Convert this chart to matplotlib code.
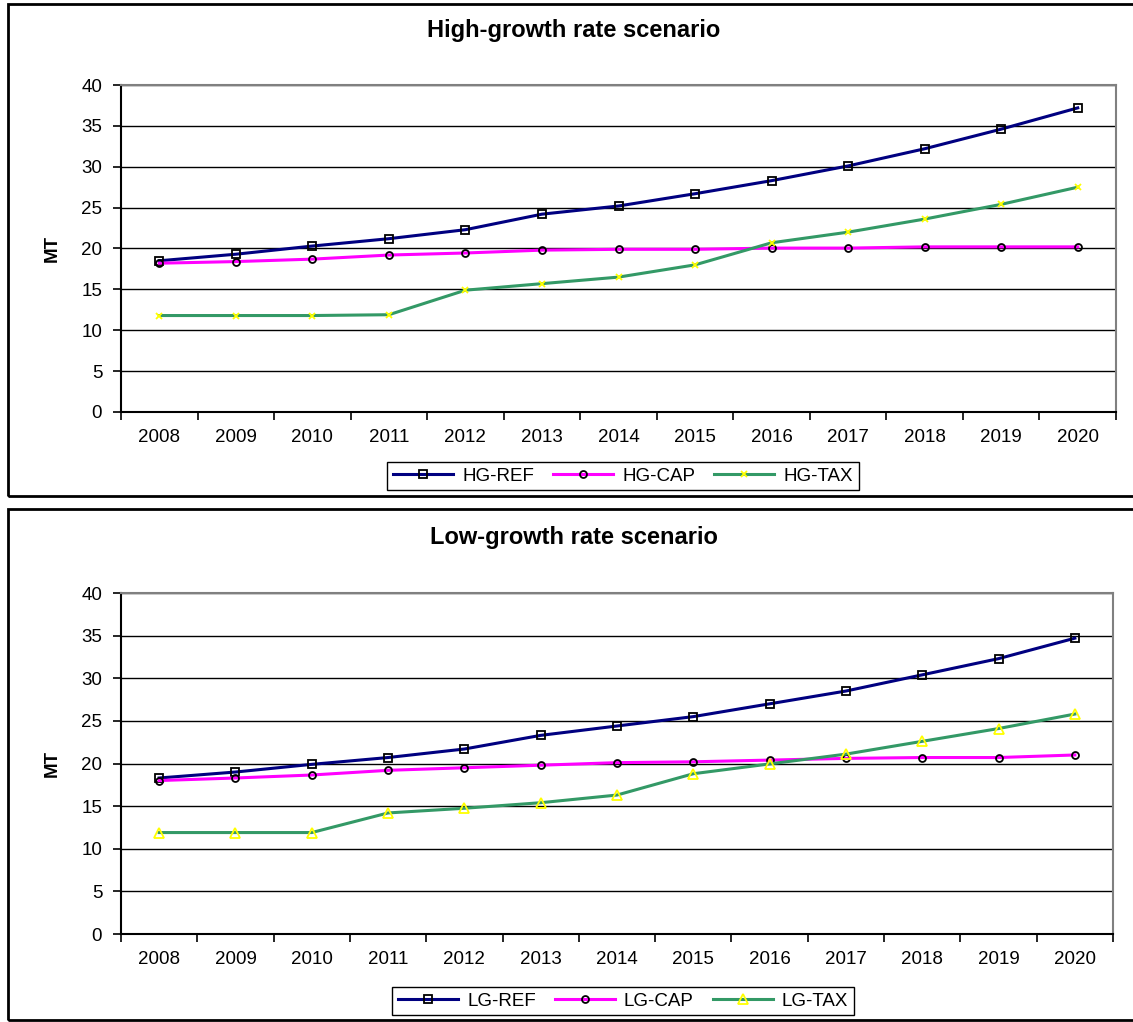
import numpy as np
import matplotlib.pyplot as plt
from matplotlib.patches import Rectangle
from matplotlib.ticker import FixedLocator

plt.rcParams['font.family'] = ['Liberation Sans', 'DejaVu Sans']

years = [str(y) for y in range(2008, 2021)]

hg_ref = [18.5, 19.3, 20.3, 21.2, 22.3, 24.2, 25.2, 26.7, 28.3, 30.1, 32.2, 34.6, 37.2]
hg_cap = [18.2, 18.4, 18.7, 19.2, 19.45, 19.8, 19.9, 19.9, 20.05, 20.05, 20.2, 20.2, 20.2]
hg_tax = [11.8, 11.8, 11.8, 11.9, 14.9, 15.7, 16.5, 18.0, 20.7, 22.0, 23.6, 25.4, 27.5]

lg_ref = [18.3, 19.0, 19.9, 20.7, 21.7, 23.3, 24.4, 25.5, 27.0, 28.5, 30.4, 32.3, 34.7]
lg_cap = [18.0, 18.3, 18.65, 19.2, 19.5, 19.8, 20.1, 20.2, 20.4, 20.6, 20.7, 20.7, 21.0]
lg_tax = [11.9, 11.9, 11.9, 14.2, 14.75, 15.4, 16.3, 18.8, 19.95, 21.1, 22.6, 24.1, 25.8]

W, H = 1133, 1022
fig = plt.figure(figsize=(W / 100, H / 100), dpi=100)


def px_rect(x0, y0, x1, y1):
    # pixel box (top-left origin) -> figure fraction [left, bottom, width, height]
    return [x0 / W, 1 - y1 / H, (x1 - x0) / W, (y1 - y0) / H]


def panel(frame, plot_box, title, title_y, series, legend_y):
    fig.patches.append(Rectangle((frame[0] / W, 1 - frame[3] / H),
                                 (frame[2] - frame[0]) / W, (frame[3] - frame[1]) / H,
                                 transform=fig.transFigure, fill=False,
                                 edgecolor='black', linewidth=2))
    ax = fig.add_axes(px_rect(*plot_box))
    x = np.arange(len(years))
    for label, vals, color, marker, ms, mec in series:
        ax.plot(x, vals, color=color, lw=2.2, marker=marker, ms=ms,
                mfc='none', mec=mec, mew=1.3, label=label)
    ax.set_xlim(-0.5, len(years) - 0.5)
    ax.set_ylim(0, 40)
    ax.set_yticks(range(0, 41, 5))
    ax.yaxis.grid(True, color='black', lw=1)
    ax.set_axisbelow(True)
    ax.set_xticks(x)
    ax.set_xticklabels(years)
    ax.xaxis.set_minor_locator(FixedLocator(np.arange(-0.5, len(years), 1)))
    ax.tick_params(axis='x', which='major', length=0, pad=12, labelsize=13.5)
    ax.tick_params(axis='x', which='minor', length=5.5, width=1.2, direction='out')
    ax.tick_params(axis='y', length=5.5, width=1.2, pad=8, labelsize=13.5)
    for s in ('top', 'right'):
        ax.spines[s].set_color('#808080')
        ax.spines[s].set_linewidth(1.5)
    for s in ('left', 'bottom'):
        ax.spines[s].set_linewidth(1.5)
    fig.text(52 / W, 1 - ((plot_box[1] + plot_box[3]) / 2) / H, 'MT', rotation=90,
             ha='center', va='center', fontsize=13.5, fontweight='bold')
    fig.text(574 / W, 1 - title_y / H, title, ha='center', va='center',
             fontsize=17, fontweight='bold')
    fig.legend(*ax.get_legend_handles_labels(), loc='center', ncol=3,
               bbox_to_anchor=(623 / W, 1 - legend_y / H),
               bbox_transform=fig.transFigure, fontsize=13.5, frameon=True,
               fancybox=False, edgecolor='black', framealpha=1,
               handlelength=3.2, handletextpad=0.5, columnspacing=1.0,
               borderpad=0.3, borderaxespad=0)
    return ax


panel((8, 4, 1145, 496), (121, 85, 1116, 412), 'High-growth rate scenario', 31,
      [('HG-REF', hg_ref, '#000080', 's', 5.5, 'black'),
       ('HG-CAP', hg_cap, '#FF00FF', 'o', 5, 'black'),
       ('HG-TAX', hg_tax, '#339966', 'x', 4, '#FFFF00')], 476)

panel((8, 509, 1145, 1020), (121, 593, 1113, 934), 'Low-growth rate scenario', 537,
      [('LG-REF', lg_ref, '#000080', 's', 5.5, 'black'),
       ('LG-CAP', lg_cap, '#FF00FF', 'o', 5, 'black'),
       ('LG-TAX', lg_tax, '#339966', '^', 7, '#FFFF00')], 1001)

fig.savefig('out.png', dpi=100)
